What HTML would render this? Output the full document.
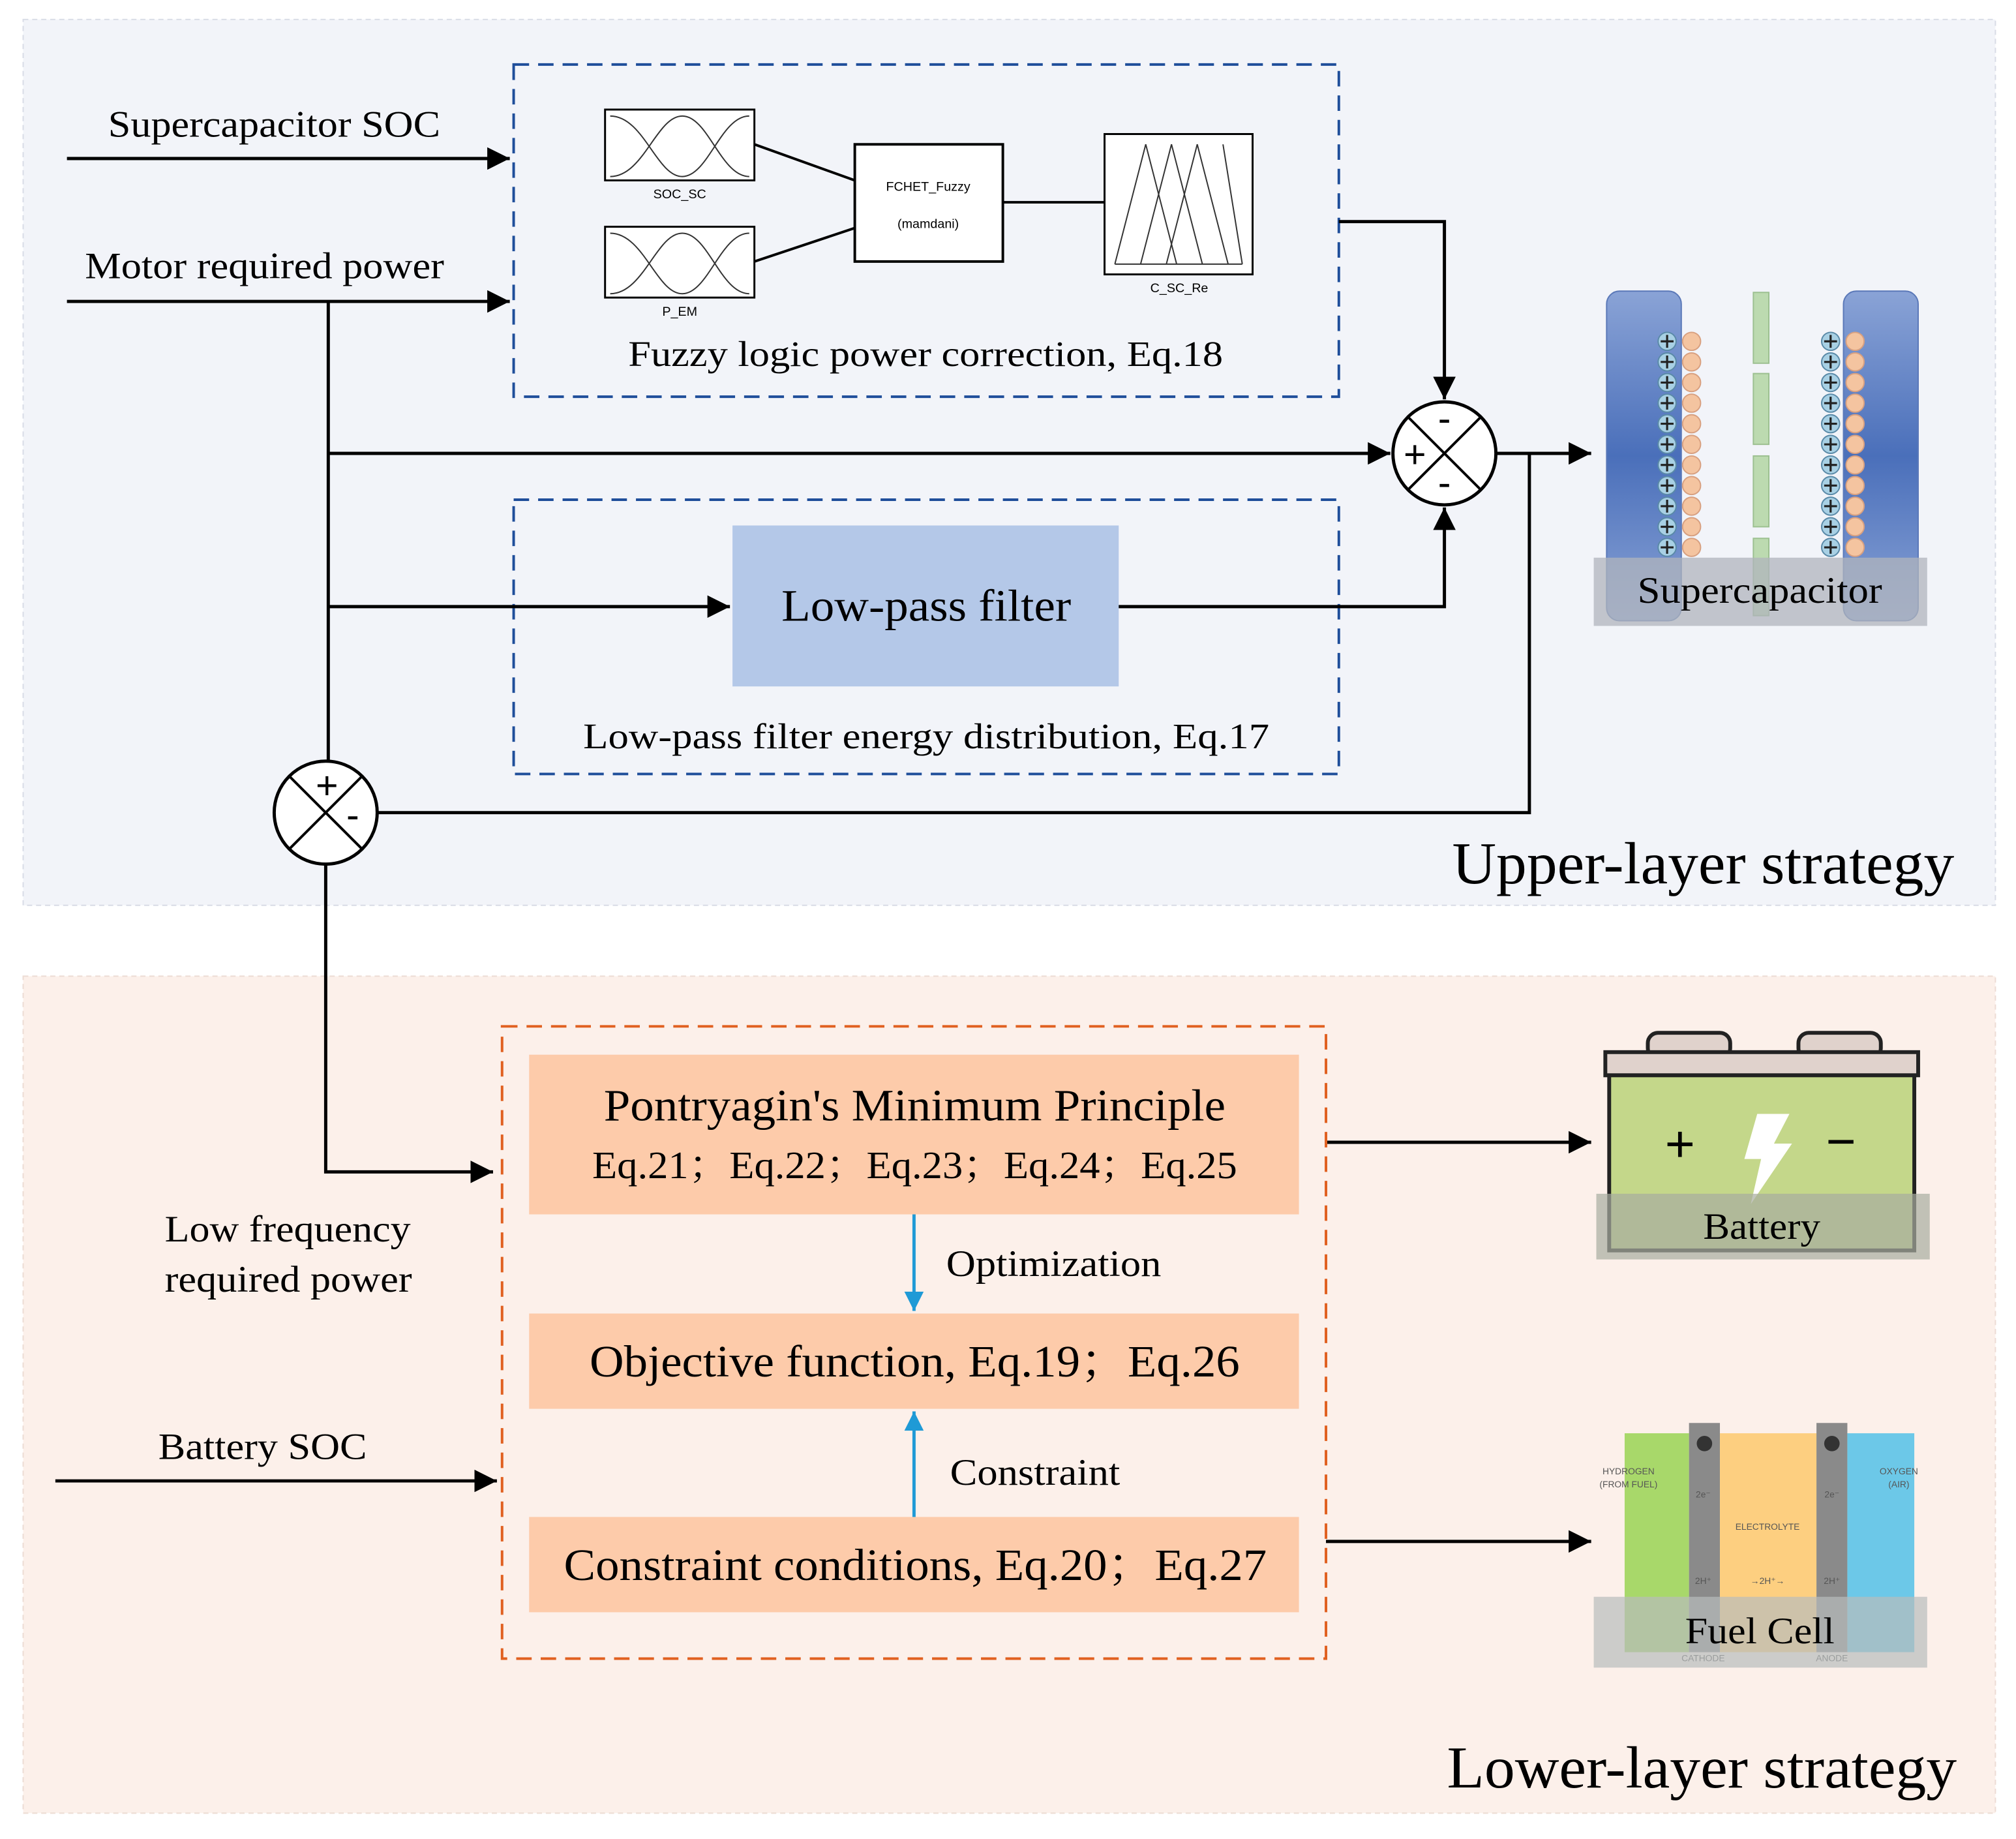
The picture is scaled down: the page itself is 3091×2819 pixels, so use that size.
<!DOCTYPE html>
<html><head><meta charset="utf-8"><style>html,body{margin:0;padding:0;background:#fff}svg{display:block}</style></head>
<body>
<svg width="3091" height="2819" viewBox="0 0 1566 1428" xmlns="http://www.w3.org/2000/svg" font-family="Liberation Serif, serif">
<defs>
<marker id="ab" viewBox="0 0 10 10" refX="10" refY="5" markerWidth="7" markerHeight="7" orient="auto"><path d="M0,0L10,5L0,10z" fill="#000"/></marker>
<marker id="abl" viewBox="0 0 10 10" refX="10" refY="5" markerWidth="6" markerHeight="6" orient="auto"><path d="M0,0L10,5L0,10z" fill="#1f9ad6"/></marker>
<linearGradient id="bl" x1="0" y1="0" x2="0" y2="1"><stop offset="0" stop-color="#8aa3d6"/><stop offset=".5" stop-color="#4a6fba"/><stop offset="1" stop-color="#8aa3d6"/></linearGradient>
</defs>
<rect x="18" y="15" width="1532" height="688" fill="#f2f4f9" stroke="#d8dce6" stroke-dasharray="4,3"/>
<rect x="18" y="758" width="1532" height="650" fill="#fcf0ea" stroke="#ecdcd4" stroke-dasharray="4,3"/>
<text x="1128" y="686" font-size="46" textLength="390" lengthAdjust="spacingAndGlyphs">Upper-layer strategy</text>
<text x="1124" y="1388" font-size="46" textLength="396" lengthAdjust="spacingAndGlyphs">Lower-layer strategy</text>

<rect x="399" y="50" width="641" height="258" fill="none" stroke="#1f4e9a" stroke-width="2" stroke-dasharray="12,7"/>
<rect x="470" y="85" width="116" height="55" fill="#fff" stroke="#000" stroke-width="1.5"/>
<path d="M474,137 C500,137 510,90 530,90 M474,90 C500,90 510,137 530,137 M530,90 C550,90 560,137 582,137 M530,137 C550,137 560,90 582,90" stroke="#333" fill="none"/>
<text x="528" y="154" font-size="10" font-family="Liberation Sans, sans-serif" text-anchor="middle">SOC_SC</text>
<rect x="470" y="176" width="116" height="55" fill="#fff" stroke="#000" stroke-width="1.5"/>
<path d="M474,228 C500,228 510,181 530,181 M474,181 C500,181 510,228 530,228 M530,181 C550,181 560,228 582,228 M530,228 C550,228 560,181 582,181" stroke="#333" fill="none"/>
<text x="528" y="245" font-size="10" font-family="Liberation Sans, sans-serif" text-anchor="middle">P_EM</text>
<rect x="664" y="112" width="115" height="91" fill="#fff" stroke="#000" stroke-width="2"/>
<text x="721" y="148" font-size="10" font-family="Liberation Sans, sans-serif" text-anchor="middle">FCHET_Fuzzy</text>
<text x="721" y="177" font-size="10" font-family="Liberation Sans, sans-serif" text-anchor="middle">(mamdani)</text>
<line x1="586" y1="112" x2="664" y2="140" stroke="#000" stroke-width="2"/>
<line x1="586" y1="203" x2="664" y2="177" stroke="#000" stroke-width="2"/>
<line x1="779" y1="157" x2="858" y2="157" stroke="#000" stroke-width="2"/>
<rect x="858" y="104" width="115" height="109" fill="#fff" stroke="#000" stroke-width="1.5"/>
<path d="M866,205 L890,112 L914,205 M886,205 L910,112 L934,205 M906,205 L930,112 L954,205 M866,205 L965,205 M950,112 L965,205" stroke="#333" fill="none"/>
<text x="916" y="227" font-size="10" font-family="Liberation Sans, sans-serif" text-anchor="middle">C_SC_Re</text>
<text x="488" y="284" font-size="28" textLength="462" lengthAdjust="spacingAndGlyphs">Fuzzy logic power correction, Eq.18</text>

<rect x="399" y="388" width="641" height="213" fill="none" stroke="#1f4e9a" stroke-width="2" stroke-dasharray="12,7"/>
<rect x="569" y="408" width="300" height="125" fill="#b4c8e8"/>
<text x="607" y="482" font-size="35" textLength="225" lengthAdjust="spacingAndGlyphs">Low-pass filter</text>
<text x="453" y="581" font-size="28" textLength="533" lengthAdjust="spacingAndGlyphs">Low-pass filter energy distribution, Eq.17</text>

<text x="84" y="106" font-size="29" textLength="258" lengthAdjust="spacingAndGlyphs">Supercapacitor SOC</text>
<text x="66" y="216" font-size="29" textLength="279" lengthAdjust="spacingAndGlyphs">Motor required power</text>
<g stroke="#000" stroke-width="2.5" fill="none">
<line x1="52" y1="123" x2="396" y2="123" marker-end="url(#ab)"/>
<line x1="52" y1="234" x2="396" y2="234" marker-end="url(#ab)"/>
<line x1="255" y1="234" x2="255" y2="591"/>
<line x1="255" y1="352" x2="1080" y2="352" marker-end="url(#ab)"/>
<line x1="255" y1="471" x2="567" y2="471" marker-end="url(#ab)"/>
<polyline points="869,471 1122,471 1122,394" marker-end="url(#ab)"/>
<polyline points="1040,172 1122,172 1122,310" marker-end="url(#ab)"/>
<line x1="1162" y1="352" x2="1236" y2="352" marker-end="url(#ab)"/>
<polyline points="1162,352 1188,352 1188,631 293,631"/>
<polyline points="253,671 253,910 383,910" marker-end="url(#ab)"/>
<line x1="1030" y1="887" x2="1236" y2="887" marker-end="url(#ab)"/>
<line x1="1030" y1="1197" x2="1236" y2="1197" marker-end="url(#ab)"/>
<line x1="43" y1="1150" x2="386" y2="1150" marker-end="url(#ab)"/>
</g>
<g stroke="#000" stroke-width="2.5" fill="#fff">
<circle cx="1122" cy="352" r="40"/>
<circle cx="253" cy="631" r="40"/>
</g>
<g stroke="#000" stroke-width="2">
<line x1="1094" y1="324" x2="1150" y2="380"/><line x1="1150" y1="324" x2="1094" y2="380"/>
<line x1="225" y1="603" x2="281" y2="659"/><line x1="281" y1="603" x2="225" y2="659"/>
</g>
<g font-family="Liberation Sans, sans-serif" font-size="30" text-anchor="middle">
<text x="1122" y="335">-</text><text x="1099" y="363">+</text><text x="1122" y="385">-</text>
<text x="254" y="620">+</text><text x="274" y="643">-</text>
</g>

<rect x="1248" y="226" width="58" height="256" rx="10" fill="url(#bl)" stroke="#5a78b8"/>
<rect x="1432" y="226" width="58" height="256" rx="10" fill="url(#bl)" stroke="#5a78b8"/>
<g fill="#bcdab0" stroke="#9cc090">
<rect x="1362" y="227" width="12" height="55"/><rect x="1362" y="290" width="12" height="55"/><rect x="1362" y="354" width="12" height="55"/><rect x="1362" y="418" width="12" height="60"/>
</g>
<g id="col">
<g fill="#a8d0e4" stroke="#5a8aa8"><circle cx="1295" cy="265" r="7"/><circle cx="1295" cy="281" r="7"/><circle cx="1295" cy="297" r="7"/><circle cx="1295" cy="313" r="7"/><circle cx="1295" cy="329" r="7"/><circle cx="1295" cy="345" r="7"/><circle cx="1295" cy="361" r="7"/><circle cx="1295" cy="377" r="7"/><circle cx="1295" cy="393" r="7"/><circle cx="1295" cy="409" r="7"/><circle cx="1295" cy="425" r="7"/></g>
<g fill="#f4c4a0" stroke="#d8a080"><circle cx="1314" cy="265" r="7"/><circle cx="1314" cy="281" r="7"/><circle cx="1314" cy="297" r="7"/><circle cx="1314" cy="313" r="7"/><circle cx="1314" cy="329" r="7"/><circle cx="1314" cy="345" r="7"/><circle cx="1314" cy="361" r="7"/><circle cx="1314" cy="377" r="7"/><circle cx="1314" cy="393" r="7"/><circle cx="1314" cy="409" r="7"/><circle cx="1314" cy="425" r="7"/></g>
<g stroke="#222" stroke-width="1.6"><path d="M1290,265h10M1295,260v10M1290,281h10M1295,276v10M1290,297h10M1295,292v10M1290,313h10M1295,308v10M1290,329h10M1295,324v10M1290,345h10M1295,340v10M1290,361h10M1295,356v10M1290,377h10M1295,372v10M1290,393h10M1295,388v10M1290,409h10M1295,404v10M1290,425h10M1295,420v10"/></g>
</g>
<use href="#col" x="127"/>
<rect x="1238" y="433" width="259" height="53" fill="#b0b4bc" opacity="0.75"/>
<text x="1272" y="468" font-size="29" textLength="190" lengthAdjust="spacingAndGlyphs">Supercapacitor</text>

<rect x="390" y="797" width="640" height="491" fill="none" stroke="#e06020" stroke-width="2" stroke-dasharray="12,7"/>
<rect x="411" y="819" width="598" height="124" fill="#fdcbaa"/>
<text x="469" y="870" font-size="35" textLength="483" lengthAdjust="spacingAndGlyphs">Pontryagin's Minimum Principle</text>
<text x="460" y="915" font-size="30" textLength="501" lengthAdjust="spacingAndGlyphs" font-family="Liberation Serif, Noto Serif CJK SC, serif">Eq.21；Eq.22；Eq.23；Eq.24；Eq.25</text>
<rect x="411" y="1020" width="598" height="74" fill="#fdcbaa"/>
<text x="458" y="1069" font-size="35" textLength="505" lengthAdjust="spacingAndGlyphs" font-family="Liberation Serif, Noto Serif CJK SC, serif">Objective function, Eq.19；Eq.26</text>
<rect x="411" y="1178" width="598" height="74" fill="#fdcbaa"/>
<text x="438" y="1227" font-size="35" textLength="546" lengthAdjust="spacingAndGlyphs" font-family="Liberation Serif, Noto Serif CJK SC, serif">Constraint conditions, Eq.20；Eq.27</text>
<line x1="710" y1="943" x2="710" y2="1018" stroke="#1f9ad6" stroke-width="2.5" marker-end="url(#abl)"/>
<line x1="710" y1="1178" x2="710" y2="1096" stroke="#1f9ad6" stroke-width="2.5" marker-end="url(#abl)"/>
<text x="735" y="991" font-size="29" textLength="167" lengthAdjust="spacingAndGlyphs">Optimization</text>
<text x="738" y="1153" font-size="29" textLength="132" lengthAdjust="spacingAndGlyphs">Constraint</text>
<text x="128" y="964" font-size="29" textLength="191" lengthAdjust="spacingAndGlyphs">Low frequency</text>
<text x="128" y="1003" font-size="29" textLength="192" lengthAdjust="spacingAndGlyphs">required power</text>
<text x="123" y="1133" font-size="29" textLength="162" lengthAdjust="spacingAndGlyphs">Battery SOC</text>

<rect x="1280" y="802" width="64" height="20" rx="8" fill="#e0d2cc" stroke="#222" stroke-width="3"/>
<rect x="1397" y="802" width="64" height="20" rx="8" fill="#e0d2cc" stroke="#222" stroke-width="3"/>
<rect x="1247" y="817" width="243" height="18" fill="#e0d2cc" stroke="#222" stroke-width="3"/>
<rect x="1250" y="835" width="237" height="136" fill="#c4d78a" stroke="#222" stroke-width="3"/>
<text x="1305" y="902" font-size="40" text-anchor="middle" font-family="Liberation Sans, sans-serif">+</text>
<text x="1430" y="900" font-size="40" text-anchor="middle" font-family="Liberation Sans, sans-serif">−</text>
<path d="M1365,865 L1390,865 L1378,888 L1392,888 L1360,935 L1368,900 L1355,900 z" fill="#fff"/>
<rect x="1240" y="927" width="259" height="51" fill="#a8aca0" opacity="0.7"/>
<text x="1323" y="962" font-size="29" textLength="91" lengthAdjust="spacingAndGlyphs">Battery</text>

<rect x="1262" y="1113" width="50" height="170" fill="#a8d86a"/>
<rect x="1312" y="1105" width="24" height="178" fill="#8a8a8a"/>
<rect x="1336" y="1113" width="75" height="170" fill="#fdcf80"/>
<rect x="1411" y="1105" width="24" height="178" fill="#8a8a8a"/>
<rect x="1435" y="1113" width="52" height="170" fill="#6cc8e8"/>
<circle cx="1324" cy="1121" r="6" fill="#333"/><circle cx="1423" cy="1121" r="6" fill="#333"/>
<g font-family="Liberation Sans, sans-serif" font-size="7" fill="#555" text-anchor="middle">
<text x="1265" y="1145">HYDROGEN</text><text x="1265" y="1155">(FROM FUEL)</text>
<text x="1475" y="1145">OXYGEN</text><text x="1475" y="1155">(AIR)</text>
<text x="1373" y="1188">ELECTROLYTE</text>
<text x="1323" y="1163">2e⁻</text><text x="1423" y="1163">2e⁻</text>
<text x="1323" y="1230">2H⁺</text><text x="1423" y="1230">2H⁺</text><text x="1373" y="1230">→2H⁺→</text>
<text x="1323" y="1290">CATHODE</text><text x="1423" y="1290">ANODE</text>
</g>
<rect x="1238" y="1240" width="259" height="55" fill="#b8bcbc" opacity="0.7"/>
<text x="1309" y="1276" font-size="29" textLength="116" lengthAdjust="spacingAndGlyphs">Fuel Cell</text>
</svg>
</body></html>
